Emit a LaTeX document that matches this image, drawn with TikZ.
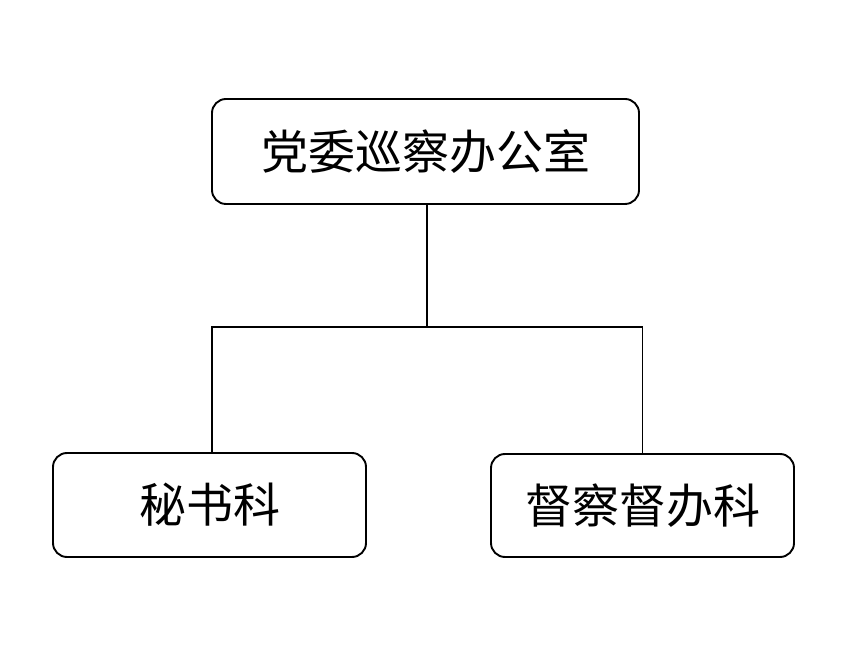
\documentclass[tikz,border=0pt]{standalone}
\usepackage{fontspec}
\newfontfamily\cjk{Noto Sans CJK SC}
\begin{document}
\begin{tikzpicture}[x=1pt,y=1pt,
  box/.style={draw,line width=1.9pt,rounded corners=14pt,inner sep=0pt,font=\cjk\fontsize{47}{52}\selectfont},
  link/.style={line width=1.9pt}]
\useasboundingbox (0,0) rectangle (849,656);
\node[box,minimum width=427pt,minimum height=105pt] (top) at (425.5,504.5) {党委巡察办公室};
\node[box,minimum width=313pt,minimum height=104pt] (left) at (209.5,151) {秘书科};
\node[box,minimum width=303pt,minimum height=103pt] (right) at (642.5,150.5) {督察督办科};
\coordinate (j) at (427,329);
\draw[link] ([xshift=1.5pt]top.south) -- (j);
\draw[link] ([xshift=2.5pt]left.north) |- (j) -| (right.north);
\end{tikzpicture}
\end{document}
